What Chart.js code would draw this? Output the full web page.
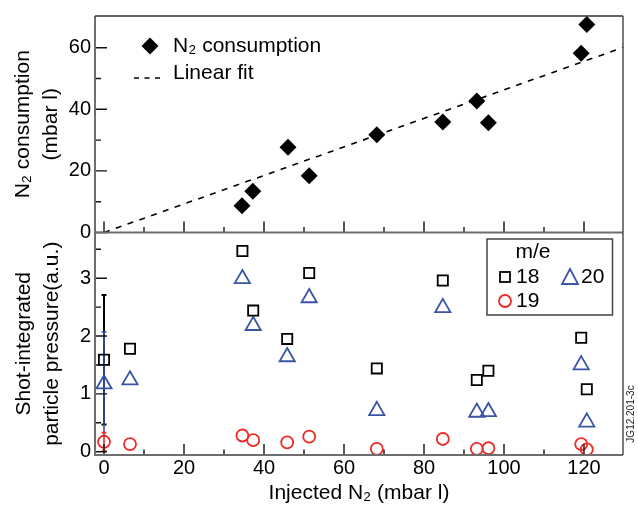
<!DOCTYPE html>
<html>
<head>
<meta charset="utf-8">
<script src="https://cdn.jsdelivr.net/npm/chart.js@4/dist/chart.umd.min.js"></script>
<style>
html,body{margin:0;padding:0;background:#fff;}
#wrap{position:relative;width:638px;height:509px;}
canvas{position:absolute;left:0;top:0;}
</style>
</head>
<body>
<div id="wrap">
  <canvas id="topPanel" width="638" height="509"></canvas>
  <canvas id="botPanel" width="638" height="509"></canvas>
</div>
<script>
// top panel: N2 consumption vs injected N2
const injected = [34.5, 37.2, 46.0, 51.3, 68.2, 84.7, 93.2, 96.1, 119.3, 120.7];
const consumption = [8.7, 13.4, 27.7, 18.4, 31.7, 35.9, 42.7, 35.6, 58.2, 67.5];
const fitX = [0, 129.75];
const fitY = [0, 60.1];

// bottom panel: shot-integrated partial pressures per m/e
const shotX = [0, 6.5, 34.6, 37.3, 45.8, 51.3, 68.2, 84.7, 93.2, 96.1, 119.3, 120.7];
const me18 = [1.59, 1.78, 3.47, 2.44, 1.95, 3.09, 1.44, 2.96, 1.24, 1.40, 1.97, 1.08];
const me19 = [0.17, 0.13, 0.28, 0.20, 0.16, 0.26, 0.05, 0.22, 0.05, 0.06, 0.13, 0.04];
const me20 = [1.17, 1.24, 2.99, 2.18, 1.64, 2.66, 0.71, 2.49, 0.68, 0.69, 1.50, 0.51];
// error bars (only the reference shot at 0)
const err18 = [1.12, null, null, null, null, null, null, null, null, null, null, null];
const err19 = [0.16, null, null, null, null, null, null, null, null, null, null, null];
const err20 = [0.90, null, null, null, null, null, null, null, null, null, null, null];

// ticks
const xTicks = [0, 20, 40, 60, 80, 100, 120];
const xMinor = [10, 30, 50, 70, 90, 110];
const topYTicks = [0, 20, 40, 60];
const topYMinor = [10, 30, 50];
const botYTicks = [0, 1, 2, 3];
const botYMinor = [0.5, 1.5, 2.5, 3.5];

const FONT = "'Liberation Sans', Arial, Helvetica, sans-serif";
const BLACK = "#000";
const RED = "#ec2a26";
const BLUE = "#3a54a6";

const pts = (xs, ys) => xs.map((x, i) => ({x: x, y: ys[i]}));

// frame + inward ticks
const framePlugin = {
  id: "frame",
  afterDraw(chart, args, o) {
    const ctx = chart.ctx;
    const a = chart.chartArea;
    const sx = chart.scales.x, sy = chart.scales.y;
    ctx.save();
    ctx.strokeStyle = "#111";
    ctx.lineWidth = 1.4;
    ctx.beginPath();
    o.xMajor.forEach(v => { const p = sx.getPixelForValue(v); ctx.moveTo(p, a.bottom); ctx.lineTo(p, a.bottom - 11); });
    o.xMinor.forEach(v => { const p = sx.getPixelForValue(v); ctx.moveTo(p, a.bottom); ctx.lineTo(p, a.bottom - 5.5); });
    o.yMajor.forEach(v => { const p = sy.getPixelForValue(v); ctx.moveTo(a.left, p); ctx.lineTo(a.left + 12, p); });
    o.yMinor.forEach(v => { const p = sy.getPixelForValue(v); ctx.moveTo(a.left, p); ctx.lineTo(a.left + 6, p); });
    ctx.stroke();

    ctx.strokeStyle = "#6e6e6e";
    ctx.lineWidth = 2;
    ctx.beginPath();
    ctx.moveTo(a.left, a.top); ctx.lineTo(a.left, a.bottom); ctx.lineTo(a.right, a.bottom);
    ctx.stroke();
    ctx.strokeStyle = "#333";
    ctx.lineWidth = 1.3;
    ctx.beginPath();
    if (o.topLine) { ctx.moveTo(a.left, a.top); ctx.lineTo(a.right, a.top); }
    ctx.moveTo(a.right, a.top); ctx.lineTo(a.right, a.bottom);
    ctx.stroke();
    ctx.restore();
  }
};

// top legend
const topLegend = {
  id: "topLegend",
  afterDraw(chart) {
    const ctx = chart.ctx;
    ctx.save();
    ctx.fillStyle = BLACK;
    ctx.beginPath();
    ctx.moveTo(141.5, 46); ctx.lineTo(150, 37.5); ctx.lineTo(158.5, 46); ctx.lineTo(150, 54.5);
    ctx.closePath();
    ctx.fill();
    ctx.strokeStyle = BLACK;
    ctx.lineWidth = 1.6;
    ctx.setLineDash([5, 5.5]);
    ctx.beginPath();
    ctx.moveTo(134, 78); ctx.lineTo(165, 78);
    ctx.stroke();
    ctx.setLineDash([]);
    ctx.font = "21px " + FONT;
    ctx.textBaseline = "middle";
    ctx.textAlign = "left";
    ctx.fillText("N\u2082 consumption", 173, 46);
    ctx.fillText("Linear fit", 173, 73);
    ctx.restore();
  }
};

// error bars drawn from the arrays through the scales
const errorBars = {
  id: "errorBars",
  beforeDatasetsDraw(chart) {
    const ctx = chart.ctx;
    const sx = chart.scales.x, sy = chart.scales.y;
    const sets = [[me18, err18, BLACK, 2], [me20, err20, BLUE, 1.6], [me19, err19, RED, 1.6]];
    ctx.save();
    sets.forEach(([vals, errs, col, w]) => {
      ctx.strokeStyle = col;
      ctx.lineWidth = w;
      ctx.beginPath();
      errs.forEach((e, i) => {
        if (e == null) return;
        const px = sx.getPixelForValue(shotX[i]);
        const y0 = sy.getPixelForValue(vals[i] - e);
        const y1 = sy.getPixelForValue(vals[i] + e);
        ctx.moveTo(px, y0); ctx.lineTo(px, y1);
        ctx.moveTo(px - 2.5, y0); ctx.lineTo(px + 2.5, y0);
        ctx.moveTo(px - 2.5, y1); ctx.lineTo(px + 2.5, y1);
      });
      ctx.stroke();
    });
    ctx.restore();
  }
};

// bottom legend + figure id
const botLegend = {
  id: "botLegend",
  afterDraw(chart) {
    const ctx = chart.ctx;
    ctx.save();
    ctx.strokeStyle = "#444";
    ctx.lineWidth = 1.5;
    ctx.strokeRect(487, 239, 125.5, 76);
    ctx.lineWidth = 1.8;
    ctx.strokeStyle = BLACK;
    ctx.strokeRect(500, 272, 10, 10);
    ctx.strokeStyle = BLUE;
    ctx.beginPath();
    ctx.moveTo(570, 269); ctx.lineTo(578, 284); ctx.lineTo(562, 284); ctx.closePath();
    ctx.stroke();
    ctx.strokeStyle = RED;
    ctx.beginPath();
    ctx.arc(505, 301, 6, 0, Math.PI * 2);
    ctx.stroke();
    ctx.fillStyle = BLACK;
    ctx.font = "21px " + FONT;
    ctx.textBaseline = "middle";
    ctx.textAlign = "center";
    ctx.fillText("m/e", 533, 252);
    ctx.textAlign = "left";
    ctx.fillText("18", 516, 277);
    ctx.fillText("20", 581, 277);
    ctx.fillText("19", 516, 301);

    ctx.translate(631, 414);
    ctx.rotate(-Math.PI / 2);
    ctx.font = "10px " + FONT;
    ctx.fillStyle = "#222";
    ctx.textAlign = "center";
    ctx.fillText("JG12.201-3c", 0, 0);
    ctx.restore();
  }
};

const tickFont = {family: FONT, size: 20};
const titleFont = {family: FONT, size: 21, lineHeight: 1.3};

new Chart(document.getElementById("topPanel"), {
  type: "scatter",
  data: {
    datasets: [
      {
        label: "N\u2082 consumption",
        data: pts(injected, consumption),
        pointStyle: "rectRot",
        pointRadius: 8.5,
        backgroundColor: BLACK,
        borderColor: BLACK,
        borderWidth: 0
      },
      {
        label: "Linear fit",
        type: "line",
        data: pts(fitX, fitY),
        borderColor: BLACK,
        borderWidth: 1.6,
        borderDash: [6, 6.5],
        pointRadius: 0,
        fill: false
      }
    ]
  },
  options: {
    responsive: false,
    animation: false,
    events: [],
    layout: {padding: {left: 0, right: 15, top: 10, bottom: 276.5}},
    plugins: {
      legend: {display: false},
      tooltip: {enabled: false},
      frame: {xMajor: xTicks, xMinor: xMinor, yMajor: topYTicks, yMinor: topYMinor, topLine: true}
    },
    scales: {
      x: {type: "linear", min: -2.25, max: 129.75, display: false},
      y: {
        type: "linear", min: 0, max: 70.3,
        afterFit: s => { s.width = 95; },
        afterBuildTicks: s => { s.ticks = topYTicks.map(v => ({value: v})); },
        grid: {display: false, drawTicks: false},
        border: {display: false},
        ticks: {font: tickFont, color: BLACK, padding: 4},
        title: {display: true, text: ["N\u2082 consumption", "(mbar l)"], font: titleFont, color: BLACK, padding: {top: 10, bottom: 0}}
      }
    }
  },
  plugins: [framePlugin, topLegend]
});

new Chart(document.getElementById("botPanel"), {
  type: "scatter",
  data: {
    datasets: [
      {label: "18", data: pts(shotX, me18), pointStyle: "rect", pointRadius: 7.2, borderColor: BLACK, backgroundColor: "rgba(0,0,0,0)", borderWidth: 1.8},
      {label: "20", data: pts(shotX, me20), pointStyle: "triangle", pointRadius: 8.8, borderColor: BLUE, backgroundColor: "rgba(0,0,0,0)", borderWidth: 1.8},
      {label: "19", data: pts(shotX, me19), pointStyle: "circle", pointRadius: 6, borderColor: RED, backgroundColor: "rgba(0,0,0,0)", borderWidth: 1.8}
    ]
  },
  options: {
    responsive: false,
    animation: false,
    events: [],
    layout: {padding: {left: 0, right: 15, top: 232.5, bottom: 0}},
    plugins: {
      legend: {display: false},
      tooltip: {enabled: false},
      frame: {xMajor: xTicks, xMinor: xMinor, yMajor: botYTicks, yMinor: botYMinor, topLine: false}
    },
    scales: {
      x: {
        type: "linear", min: -2.25, max: 129.75,
        afterFit: s => { s.height = 54; },
        afterBuildTicks: s => { s.ticks = xTicks.map(v => ({value: v})); },
        grid: {display: false, drawTicks: false},
        border: {display: false},
        ticks: {font: tickFont, color: BLACK, padding: 1, maxRotation: 0},
        title: {display: true, text: "Injected N\u2082 (mbar l)", font: {family: FONT, size: 21, lineHeight: 1.2}, color: BLACK, padding: {top: 0, bottom: 3}}
      },
      y: {
        type: "linear", min: -0.057, max: 3.79,
        afterFit: s => { s.width = 95; },
        afterBuildTicks: s => { s.ticks = botYTicks.map(v => ({value: v})); },
        grid: {display: false, drawTicks: false},
        border: {display: false},
        ticks: {font: tickFont, color: BLACK, padding: 4},
        title: {display: true, text: ["Shot-integrated", "particle pressure(a.u.)"], font: titleFont, color: BLACK, padding: {top: 11, bottom: 0}}
      }
    }
  },
  plugins: [errorBars, framePlugin, botLegend]
});
</script>
</body>
</html>
